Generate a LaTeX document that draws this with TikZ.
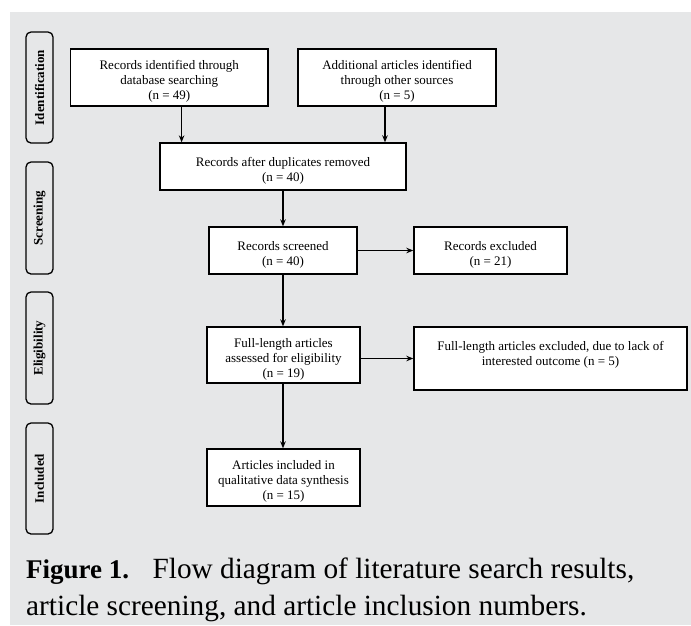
\documentclass[tikz,border=0pt]{standalone}
\usepackage{fontspec}
\setmainfont{Liberation Serif}
\usetikzlibrary{arrows.meta}
\definecolor{panelgray}{RGB}{230,231,232}
\newcommand{\boxtop}{\rule{0pt}{17pt}}
\begin{document}
\begin{tikzpicture}[x=1pt,y=-1pt,
  box/.style={rectangle,draw=black,fill=white,line width=1.4pt,align=center,inner sep=2pt,font=\fontsize{13}{15}\selectfont},
  stage/.style={rectangle,rounded corners=5pt,draw=black,line width=1.3pt,rotate=90,minimum height=27pt,inner sep=0pt,font=\fontsize{13}{14}\selectfont\bfseries},
  flow/.style={->,line width=1.3pt},
  capline/.style={anchor=base west,inner sep=0pt,font=\fontsize{29.3}{37}\selectfont},
  >={Stealth[length=7pt,width=5.5pt]}]
\useasboundingbox (0,0) rectangle (691,625);
\fill[panelgray] (10,12) rectangle (691,625);
% phases
\node[stage,minimum width=111pt] (S1) at (39.5,87.5) {Identification};
\node[stage,minimum width=112pt] (S2) at (39.5,218) {Screening};
\node[stage,minimum width=112pt] (S3) at (39.5,348) {Eligibility};
\node[stage,minimum width=111pt] (S4) at (39.5,478.5) {Included};
% boxes
\node[box,minimum width=197.5pt,minimum height=57pt] (R) at (169.25,77.5) {\boxtop Records identified through\\database searching\\(n = 49)};
\node[box,minimum width=198pt,minimum height=57pt] (A) at (397,77.5) {\boxtop Additional articles identified\\through other sources\\(n = 5)};
\node[box,minimum width=246pt,minimum height=47pt] (D) at (283,166.5) {\boxtop Records after duplicates removed\\(n = 40)};
\node[box,minimum width=148pt,minimum height=47pt] (S) at (283,250.5) {\boxtop Records screened\\(n = 40)};
\node[box,minimum width=153pt,minimum height=47pt] (X) at (490.5,250.5) {\boxtop Records excluded\\(n = 21)};
\node[box,minimum width=153pt,minimum height=56pt] (F) at (283.5,355) {\boxtop Full-length articles\\assessed for eligibility\\(n = 19)};
\node[box,minimum width=273pt,minimum height=63pt] (FX) at (550.5,358.5) {\rule{0pt}{13pt}Full-length articles excluded, due to lack of\\interested outcome (n = 5)\\~};
\node[box,minimum width=153pt,minimum height=57pt] (I) at (283.5,477.5) {\boxtop Articles included in\\qualitative data synthesis\\(n = 15)};
% arrows
\draw[flow] (R.south -| 181.6,0) to (D.north -| 181.6,0);
\draw[flow] (A.south -| 385,0) to (D.north -| 385,0);
\draw[flow] (D.south -| 283,0) to (S.north -| 283,0);
\draw[flow] (S.east) to (X.west);
\draw[flow] (S.south -| 283,0) to (F.north -| 283,0);
\draw[flow] (F.east |- FX.west) to (FX.west);
\draw[flow] (F.south -| 283,0) to (I.north -| 283,0);
% caption
\node[capline] (cap1) at (26,578) {{\fontsize{27}{37}\selectfont\bfseries Figure 1.}\hspace{0.8em}Flow diagram of literature search results,};
\node[capline] (cap2) at (26,615) {article screening, and article inclusion numbers.};
\end{tikzpicture}
\end{document}
